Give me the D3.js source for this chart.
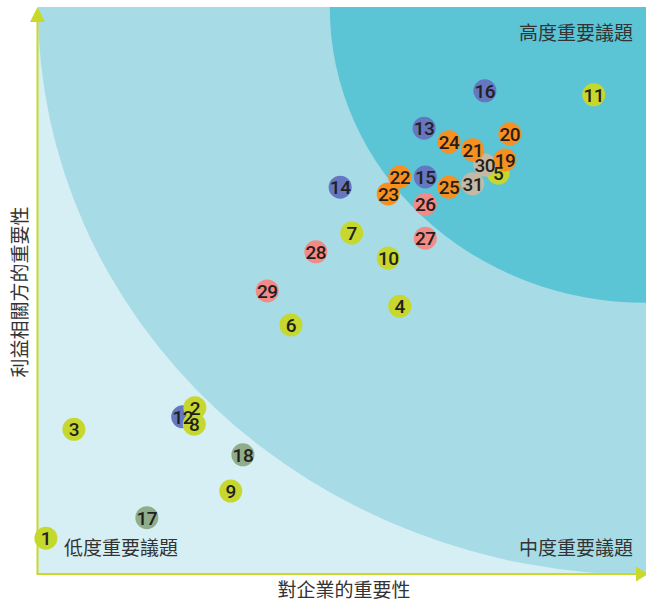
<!DOCTYPE html>
<html><head><meta charset="utf-8">
<script src="https://cdn.jsdelivr.net/npm/d3@7/dist/d3.min.js"></script>
<style>html,body{margin:0;padding:0;background:#fff;}svg{display:block;}</style>
</head><body>
<script>
// Issue ids, importance to company (x) and to stakeholders (y), group
const ids = [1,2,3,4,5,6,7,8,9,10,11,12,13,14,15,16,17,18,19,20,21,22,23,24,25,26,27,28,29,30,31];
const xVals = [1.3,25.8,5.9,59.5,75.7,41.6,51.6,25.7,31.7,57.6,91.4,23.8,63.5,49.7,63.7,73.5,17.9,33.7,76.8,77.6,71.5,59.5,57.6,67.6,67.6,63.7,63.7,45.7,37.7,73.5,71.5];
const yVals = [6.5,29.5,25.7,47.4,70.9,44.1,60.3,26.6,14.8,55.9,84.7,27.9,78.8,68.4,70.2,85.4,10.1,21.2,73.2,77.8,75.0,70.2,67.2,76.4,68.4,65.4,59.4,57.0,50.1,72.3,69.0];
const groups = ["A","A","A","A","A","A","A","A","A","A","A","B","B","B","B","B","C","C","D","D","D","D","D","D","D","E","E","E","E","F","F"];
const groupNames = ["A","B","C","D","E","F"];
const groupColors = ["#c6d82d","#6577c1","#90ad8b","#f7901e","#f28a87","#c5b9a6"];
const drawOrder = ["B","C","A","F","D","E"];
const zoneRadii = [100, 52];
const zoneColors = ["#a7dce6","#5bc4d5"];
const zoneLabels = ["高度重要議題","中度重要議題","低度重要議題"];
const xTitle = "對企業的重要性";
const yTitle = "利益相關方的重要性";

const W = 646, H = 603;
const L = 37.5, R = 646, T = 7, B = 574;
const svg = d3.select("body").append("svg").attr("width", W).attr("height", H);
const x = d3.scaleLinear().domain([0,100]).range([L+0.5, R]);
const y = d3.scaleLinear().domain([0,100]).range([B+1, T+1]);
const color = d3.scaleOrdinal().domain(groupNames).range(groupColors);

svg.append("clipPath").attr("id","plotclip").append("rect")
  .attr("x", L).attr("y", T).attr("width", R-L).attr("height", B-T);
const bg = svg.append("g").attr("clip-path","url(#plotclip)");
bg.append("rect").attr("x", L).attr("y", T).attr("width", R-L).attr("height", B-T).attr("fill","#d6eff4");
zoneRadii.forEach((r,i) => {
  bg.append("ellipse")
    .attr("cx", x(100)).attr("cy", y(100))
    .attr("rx", x(100)-x(100-r)).attr("ry", y(100-r)-y(100))
    .attr("fill", zoneColors[i]);
});

const textFont = "'Noto Sans CJK TC','Noto Sans CJK SC',sans-serif";
const zl = svg.append("g").attr("font-family", textFont).attr("font-size", 19).attr("fill","#333");
zl.append("text").attr("x", 633).attr("y", 40).attr("text-anchor","end").text(zoneLabels[0]);
zl.append("text").attr("x", 633).attr("y", 555).attr("text-anchor","end").text(zoneLabels[1]);
zl.append("text").attr("x", 64).attr("y", 555).attr("text-anchor","start").text(zoneLabels[2]);

// axes
const axisColor = "#c8d92a";
svg.append("line").attr("x1", L).attr("x2", L).attr("y1", B).attr("y2", T+12).attr("stroke", axisColor).attr("stroke-width", 2);
svg.append("line").attr("x1", L-1).attr("x2", R-8).attr("y1", B).attr("y2", B).attr("stroke", axisColor).attr("stroke-width", 2);
svg.append("path").attr("d", `M${L},${T} L${L+7.5},${T+15} L${L-7.5},${T+15} Z`).attr("fill", axisColor);
svg.append("path").attr("d", `M${R+2},${B} L${R-10},${B-7.5} L${R-10},${B+7.5} Z`).attr("fill", axisColor);

svg.append("text").attr("x", 344).attr("y", 597).attr("text-anchor","middle")
  .attr("font-family", textFont).attr("font-size", 19).attr("fill","#333").text(xTitle);
svg.append("text").attr("transform", "translate(27,292) rotate(-90)").attr("text-anchor","middle")
  .attr("font-family", textFont).attr("font-size", 19).attr("fill","#333").text(yTitle);

const pts = ids.map((id,i) => ({id, x:xVals[i], y:yVals[i], g:groups[i]}));
const ordered = pts.slice().sort((a,b) => drawOrder.indexOf(a.g) - drawOrder.indexOf(b.g) || a.id - b.id);
svg.append("g").selectAll("circle").data(ordered).join("circle")
  .attr("cx", d => x(d.x)).attr("cy", d => y(d.y)).attr("r", 11.5)
  .attr("fill", d => color(d.g));
svg.append("g").selectAll("text").data(ordered).join("text")
  .attr("x", d => x(d.x)).attr("y", d => y(d.y)).attr("dy", "0.36em")
  .attr("text-anchor","middle").attr("font-family","Roboto, sans-serif")
  .attr("font-weight", 500).attr("font-size", 19).attr("letter-spacing", "-0.5px")
  .attr("fill","#231f20").text(d => d.id);
</script>
</body></html>
